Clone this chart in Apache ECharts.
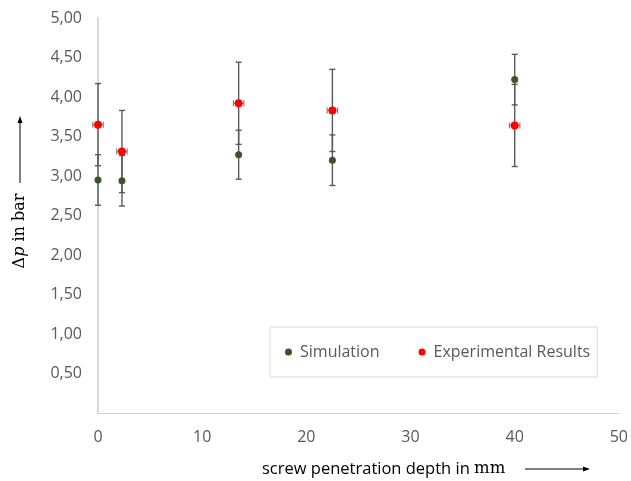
<!DOCTYPE html>
<html>
<head>
<meta charset="utf-8">
<script src="https://cdn.jsdelivr.net/npm/echarts@6/dist/echarts.min.js"></script>
<style>html,body{margin:0;padding:0;background:#fff;}#c{width:631px;height:481px;}</style>
</head>
<body>
<div id="c"></div>
<script>
// screw penetration depth in mm
const depth = [0, 2.3, 13.5, 22.5, 40];
// Simulation Δp in bar
const simValues = [2.95, 2.94, 3.27, 3.20, 4.22];
const simErr = [0.32, 0.32, 0.31, 0.32, 0.32];
// Experimental Results Δp in bar
const expValues = [3.65, 3.31, 3.92, 3.83, 3.64];
const expErr = [0.52, 0.52, 0.52, 0.52, 0.52];
const expXErr = [0.5, 0.5, 0.5, 0.5, 0.5];
const yTicks = [0.5, 1, 1.5, 2, 2.5, 3, 3.5, 4, 4.5, 5];
const xTicks = [0, 10, 20, 30, 40, 50];

const simData = depth.map((d, i) => [d, simValues[i]]);
const expData = depth.map((d, i) => [d, expValues[i]]);
const simErrData = depth.map((d, i) => [d, simValues[i], simErr[i], 0]);
const expErrData = depth.map((d, i) => [d, expValues[i], expErr[i], expXErr[i]]);

const sans = '"Open Sans", "Noto Sans", sans-serif';
const serif = '"DejaVu Serif", "Liberation Serif", serif';

function errRender(params, api) {
  const x = api.value(0), y = api.value(1), e = api.value(2), xe = api.value(3);
  const top = api.coord([x, y + e]);
  const bot = api.coord([x, y - e]);
  const cw = 3;
  const st = { stroke: '#595959', lineWidth: 1.4 };
  const children = [
    { type: 'line', shape: { x1: top[0], y1: top[1], x2: bot[0], y2: bot[1] }, style: st },
    { type: 'line', shape: { x1: top[0] - cw, y1: top[1], x2: top[0] + cw, y2: top[1] }, style: st },
    { type: 'line', shape: { x1: bot[0] - cw, y1: bot[1], x2: bot[0] + cw, y2: bot[1] }, style: st }
  ];
  if (xe > 0) {
    const l = api.coord([x - xe, y]);
    const r = api.coord([x + xe, y]);
    const hs = { stroke: '#808080', lineWidth: 1.2 };
    children.push(
      { type: 'line', shape: { x1: l[0], y1: l[1], x2: r[0], y2: r[1] }, style: hs },
      { type: 'line', shape: { x1: l[0], y1: l[1] - 3, x2: l[0], y2: l[1] + 3 }, style: hs },
      { type: 'line', shape: { x1: r[0], y1: r[1] - 3, x2: r[0], y2: r[1] + 3 }, style: hs }
    );
  }
  return { type: 'group', children };
}

const chart = echarts.init(document.getElementById('c'), null, { renderer: 'canvas' });
chart.setOption({
  animation: false,
  backgroundColor: '#ffffff',
  grid: { left: 98, right: 10, top: 18, bottom: 68 },
  xAxis: {
    type: 'value', min: xTicks[0], max: xTicks[xTicks.length - 1], interval: 10,
    axisLine: { show: true, lineStyle: { color: '#d0d0d0', width: 1.2 } },
    axisTick: { show: false },
    splitLine: { show: false },
    axisLabel: { color: '#595959', fontSize: 16, fontFamily: sans, margin: 16 }
  },
  yAxis: {
    type: 'value', min: 0, max: yTicks[yTicks.length - 1], interval: 0.5,
    axisLine: { show: true, lineStyle: { color: '#d9d9d9', width: 2 } },
    axisTick: { show: false },
    splitLine: { show: false },
    axisLabel: {
      color: '#595959', fontSize: 16, fontFamily: sans, margin: 16,
      formatter: v => (v === 0 ? '' : v.toFixed(2).replace('.', ','))
    }
  },
  legend: {
    data: ['Simulation', 'Experimental Results'],
    left: 270, top: 327,
    orient: 'horizontal',
    padding: [17, 7, 17, 15],
    itemGap: 39,
    itemWidth: 7, itemHeight: 7,
    icon: 'circle',
    borderColor: '#d9d9d9', borderWidth: 1,
    textStyle: { color: '#595959', fontSize: 16, fontFamily: sans, padding: [0, 0, 0, 3] }
  },
  series: [
    { type: 'custom', renderItem: errRender, data: simErrData, z: 2, silent: true },
    { type: 'custom', renderItem: errRender, data: expErrData, z: 2, silent: true },
    { name: 'Simulation', type: 'scatter', data: simData, symbolSize: 7, itemStyle: { color: '#375623', opacity: 1 }, z: 5 },
    { name: 'Experimental Results', type: 'scatter', data: expData, symbolSize: 8, itemStyle: { color: '#ff0000', opacity: 1 }, z: 6 }
  ],
  graphic: [
    {
      type: 'text', x: 20, y: 231, rotation: Math.PI / 2,
      style: {
        text: '{n|Δ}{i|p}{n| in bar}',
        align: 'center', verticalAlign: 'middle',
        rich: {
          n: { fontFamily: serif, fontSize: 16, fill: '#000' },
          i: { fontFamily: serif, fontSize: 16, fontStyle: 'italic', fill: '#000' }
        }
      }
    },
    { type: 'line', shape: { x1: 20, y1: 183, x2: 20, y2: 121 }, style: { stroke: '#000', lineWidth: 1 } },
    { type: 'polygon', shape: { points: [[20, 116], [17.5, 123], [22.5, 123]] }, style: { fill: '#000' } },
    {
      type: 'text', x: 262, y: 469,
      style: {
        text: '{a|screw penetration depth in }{b|mm}',
        verticalAlign: 'middle',
        rich: {
          a: { fontFamily: sans, fontSize: 16.5, fill: '#000' },
          b: { fontFamily: serif, fontSize: 16.5, fill: '#000' }
        }
      }
    },
    { type: 'line', shape: { x1: 525, y1: 469, x2: 584, y2: 469 }, style: { stroke: '#000', lineWidth: 1 } },
    { type: 'polygon', shape: { points: [[590, 469], [583, 466.5], [583, 471.5]] }, style: { fill: '#000' } }
  ]
});
</script>
</body>
</html>
